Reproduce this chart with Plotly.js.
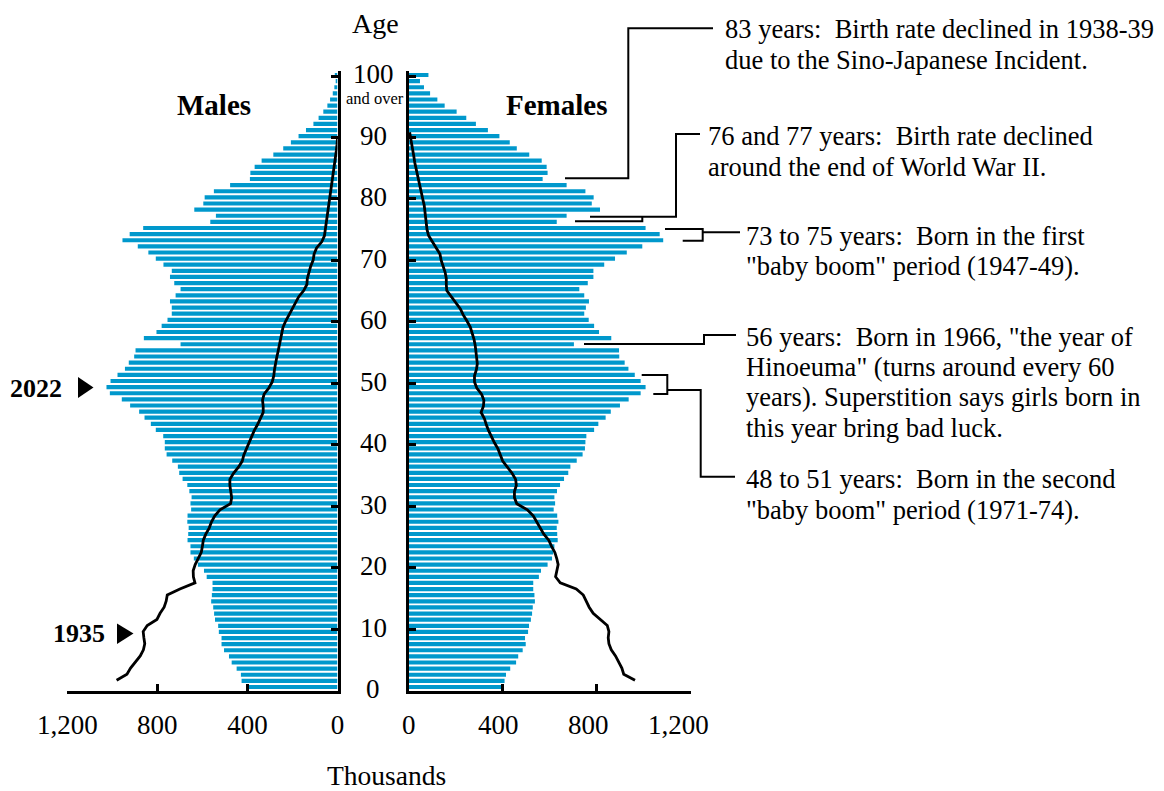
<!DOCTYPE html>
<html>
<head>
<meta charset="utf-8">
<script src="https://cdn.plot.ly/plotly-3.0.1.min.js"></script>
<style>html,body{margin:0;padding:0;background:#fff;}#chart{width:1164px;height:791px;}</style>
</head>
<body>
<div id="chart"></div>
<script>
// ---- data ----
const ages = [0,1,2,3,4,5,6,7,8,9,10,11,12,13,14,15,16,17,18,19,20,21,22,23,24,25,26,27,28,29,30,31,32,33,34,35,36,37,38,39,40,41,42,43,44,45,46,47,48,49,50,51,52,53,54,55,56,57,58,59,60,61,62,63,64,65,66,67,68,69,70,71,72,73,74,75,76,77,78,79,80,81,82,83,84,85,86,87,88,89,90,91,92,93,94,95,96,97,98,99,100];

// 2022 population, thousands (age 100 = "100 and over")
const males2022 = [404,426,429,448,470,482,504,515,515,527,
530,544,548,552,561,558,555,555,581,593,
620,638,653,653,666,663,661,667,666,650,
653,648,658,667,688,703,709,734,759,767,
767,774,807,829,857,881,921,958,1011,1026,
1008,977,944,927,903,897,697,860,804,781,
755,736,736,744,719,697,725,744,736,773,
807,840,887,955,923,863,565,540,636,596,
590,549,477,389,387,368,337,285,241,207,
173,140,107,84,63,45,33,21,14,8,12];

const females2022 = [398,408,414,432,457,466,485,498,495,508,
512,520,525,528,537,535,530,530,554,563,
591,610,615,620,634,632,630,637,632,617,
623,620,631,644,661,679,688,715,740,750,
752,756,789,807,838,860,899,936,987,1008,
987,962,935,919,896,895,703,862,810,789,
766,747,754,767,747,726,762,786,786,832,
878,928,994,1083,1068,1008,630,672,814,779,
787,752,672,570,591,587,566,513,460,430,
386,337,286,245,204,153,122,91,65,48,84];

// 1935 population, thousands
const males1935 = [981,935,919,898,876,862,856,860,863,845,
802,788,770,761,756,700,633,640,641,632,
617,605,600,596,585,570,560,545,522,475,
470,474,478,478,462,440,423,416,405,395,
383,370,355,342,330,330,333,326,305,290,
283,280,276,270,264,259,254,250,242,230,
216,200,188,172,150,136,134,128,119,108,
104,93,70,58,54,50,47,44,41,37,
32,27,23,19,15,11,8,5,2,0];

const females1935 = [963,915,907,895,880,862,852,849,852,845,
815,785,768,755,743,713,645,625,632,636,
630,622,608,596,575,560,548,530,505,460,
450,450,458,455,440,420,400,390,380,365,
352,340,330,322,308,318,320,310,290,280,
280,288,292,290,288,283,278,270,262,248,
232,220,200,180,162,160,160,155,145,138,
133,118,100,85,78,75,73,70,66,60,
54,47,42,36,30,26,22,18,14,9,4];

const xTickVals = [0, 400, 800, 1200];
const xTickText = ['0', '400', '800', '1,200'];
const ageTicks = [0,10,20,30,40,50,60,70,80,90,100];

const notes = [
  {x: 723, ys: [28.8, 59.8], lines: ['83 years:\u00a0 Birth rate declined in 1938-39', 'due to the Sino-Japanese Incident.']},
  {x: 706, ys: [136, 166.8], lines: ['76 and 77 years:\u00a0 Birth rate declined', 'around the end of World War II.']},
  {x: 744, ys: [235.5, 266.5], lines: ['73 to 75 years:\u00a0 Born in the first', '"baby boom" period (1947-49).']},
  {x: 744, ys: [336.5, 366.8, 397.3, 428], lines: ['56 years:\u00a0 Born in 1966, "the year of', 'Hinoeuma" (turns around every 60', 'years). Superstition says girls born in', 'this year bring bad luck.']},
  {x: 744, ys: [479, 510], lines: ['48 to 51 years:\u00a0 Born in the second', '"baby boom" period (1971-74).']}
];

// ---- layout helpers ----
const W = 1164, H = 791;
const px = x => x / W;
const py = y => 1 - y / H;
const BLUE = 'rgb(0,152,204)';
const FONT = '"Liberation Serif", "Times New Roman", Times, serif';
const NOTE_SIZE = 26.5;

const barPos = ages.map(a => 0.57 + 0.996 * a);
const linePosM = ages.slice(0, males1935.length).map(a => 1.66 + 0.991 * a);
const linePosF = ages.slice(0, females1935.length).map(a => 1.66 + 0.991 * a);

const traces = [
  {type: 'bar', orientation: 'h', x: males2022, y: barPos, xaxis: 'x', yaxis: 'y', width: 0.68,
   marker: {color: BLUE, line: {width: 0}}, hoverinfo: 'skip'},
  {type: 'bar', orientation: 'h', x: females2022, y: barPos, xaxis: 'x2', yaxis: 'y2', width: 0.68,
   marker: {color: BLUE, line: {width: 0}}, hoverinfo: 'skip'},
  {type: 'scatter', mode: 'lines', x: males1935, y: linePosM, xaxis: 'x', yaxis: 'y',
   line: {color: 'black', width: 2.8}, hoverinfo: 'skip', cliponaxis: false},
  {type: 'scatter', mode: 'lines', x: females1935, y: linePosF, xaxis: 'x2', yaxis: 'y2',
   line: {color: 'black', width: 2.8}, hoverinfo: 'skip', cliponaxis: false},
  // carrier for the female label scale (invisible)
  {type: 'scatter', mode: 'markers', x: [0], y: [0.5], xaxis: 'x3', yaxis: 'y3',
   marker: {opacity: 0, size: 1}, hoverinfo: 'skip'}
];

const yDomain = [py(690.5), py(70.5)];
const yRange = [0, 100.9];
const axCommon = {showgrid: false, zeroline: false, showline: true, linecolor: 'black', linewidth: 3,
  ticks: 'inside', ticklen: 7, tickwidth: 3, tickcolor: 'black', fixedrange: true};

const layout = {
  width: W, height: H,
  margin: {l: 0, r: 0, t: 0, b: 0, pad: 0},
  paper_bgcolor: 'white', plot_bgcolor: 'rgba(0,0,0,0)',
  showlegend: false,
  barmode: 'overlay',
  font: {family: FONT, size: 27, color: 'black'},
  xaxis: Object.assign({}, axCommon, {domain: [px(67.3), px(337.5)], range: [1200, 0], anchor: 'y',
    tickvals: xTickVals, ticktext: xTickText, tickfont: {size: 27}, ticklabelstandoff: 8}),
  xaxis2: Object.assign({}, axCommon, {domain: [px(408.7), px(690.7)], range: [0, 1200], anchor: 'y2',
    tickvals: xTickVals, showticklabels: false}),
  xaxis3: {domain: [px(408.7), px(690.7)], range: [0, 1200 * (690.7 - 408.7) / (337.5 - 67.3)],
    anchor: 'y3', showline: false, showgrid: false, zeroline: false, ticks: '', showticklabels: false, fixedrange: true},
  yaxis: Object.assign({}, axCommon, {domain: yDomain, range: yRange, anchor: 'x', side: 'right',
    tickvals: ageTicks, showticklabels: false}),
  yaxis2: Object.assign({}, axCommon, {domain: yDomain, range: yRange, anchor: 'x2', side: 'left',
    tickvals: ageTicks, showticklabels: false}),
  yaxis3: {domain: [py(697.5), py(690)], range: [0, 1], anchor: 'x3', visible: false, fixedrange: true},
  annotations: [],
  shapes: []
};

const ann = (x, y, text, opts) => Object.assign({xref: 'paper', yref: 'paper', x: px(x), y: py(y), text: text,
  showarrow: false, xanchor: 'center', yanchor: 'middle', font: {family: FONT, size: 27, color: 'black'}}, opts || {});

// female value labels on the label scale (x3)
xTickVals.forEach((v, i) => {
  layout.annotations.push({xref: 'x3', yref: 'paper', x: v, y: py(724.5), text: xTickText[i], showarrow: false,
    xanchor: 'center', yanchor: 'middle', font: {family: FONT, size: 27, color: 'black'}});
});

// age tick labels centred between the two axes
ageTicks.forEach(t => {
  layout.annotations.push({xref: 'paper', yref: 'y', x: px(373), y: t, text: String(t), showarrow: false,
    xanchor: 'center', yanchor: 'middle', yshift: t === 100 ? 2.5 : 1.5, font: {family: FONT, size: 27, color: 'black'}});
});
layout.annotations.push(ann(375, 98.5, 'and over', {font: {family: FONT, size: 16.5, color: 'black'}}));
layout.annotations.push(ann(375, 23, 'Age', {font: {family: FONT, size: 28, color: 'black'}}));
layout.annotations.push(ann(214, 104.5, '<b>Males</b>', {font: {family: FONT, size: 29, color: 'black'}}));
layout.annotations.push(ann(556.5, 104.5, '<b>Females</b>', {font: {family: FONT, size: 29, color: 'black'}}));
layout.annotations.push(ann(36, 388, '<b>2022</b>', {font: {family: FONT, size: 26, color: 'black'}}));
layout.annotations.push(ann(78.5, 633.5, '<b>1935</b>', {font: {family: FONT, size: 26, color: 'black'}}));
layout.annotations.push(ann(386.7, 775, 'Thousands', {font: {family: FONT, size: 27.5, color: 'black'}}));

notes.forEach(n => {
  n.lines.forEach((t, i) => layout.annotations.push(ann(n.x, n.ys[i], t,
    {xanchor: 'left', font: {family: FONT, size: NOTE_SIZE, color: 'black'}})));
});

// pointer triangles
const tri = (pts) => 'M' + pts.map(p => px(p[0]) + ',' + py(p[1])).join(' L') + ' Z';
layout.shapes.push({type: 'path', xref: 'paper', yref: 'paper', path: tri([[78, 377], [93.5, 387.5], [78, 398]]),
  fillcolor: 'black', line: {width: 0}});
layout.shapes.push({type: 'path', xref: 'paper', yref: 'paper', path: tri([[117, 623.5], [133.5, 633.5], [117, 644]]),
  fillcolor: 'black', line: {width: 0}});

// connector lines
const poly = (pts) => 'M' + pts.map(p => px(p[0]) + ',' + py(p[1])).join(' L');
const connectors = [
  [[565, 178.3], [628.3, 178.3], [628.3, 28.3], [713, 28.3]],
  [[590, 216.7], [676, 216.7], [676, 134], [700, 134]],
  [[575, 221.3], [642.3, 221.3], [642.3, 216.7]],
  [[665, 229], [702.7, 229], [702.7, 240.7], [682.7, 240.7]],
  [[702.7, 232.3], [740, 232.3]],
  [[584, 344], [704, 344], [704, 335], [736, 335]],
  [[641.7, 375], [667.3, 375], [667.3, 394], [653.3, 394]],
  [[667.3, 390], [700.7, 390], [700.7, 476.7], [735, 476.7]]
];
connectors.forEach(c => layout.shapes.push({type: 'path', xref: 'paper', yref: 'paper', path: poly(c),
  line: {color: 'black', width: 2}, fillcolor: 'rgba(0,0,0,0)'}));

Plotly.newPlot('chart', traces, layout, {staticPlot: true, displayModeBar: false});
</script>
</body>
</html>
